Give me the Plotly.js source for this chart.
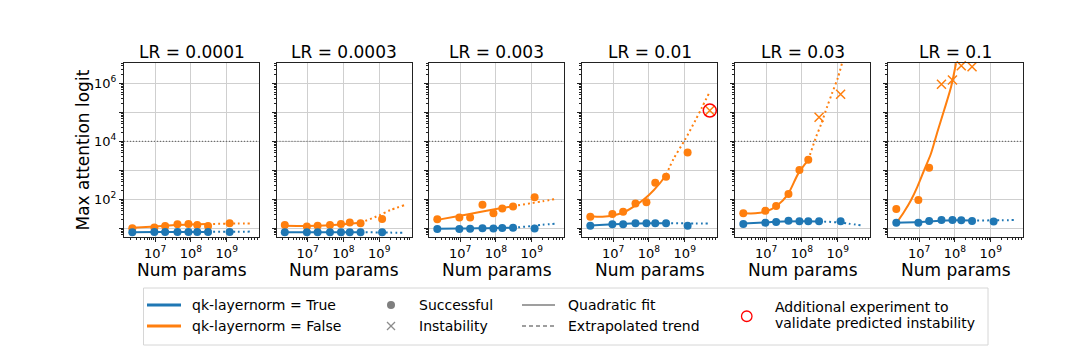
<!DOCTYPE html>
<html><head><meta charset="utf-8">
<script src="https://cdn.plot.ly/plotly-3.0.1.min.js"></script>
<style>html,body{margin:0;padding:0;background:#fff}#chart{width:1080px;height:354px}</style>
</head><body><div id="chart"></div>
<script>
// ---------------- DATA ----------------
const lrTitles = ['LR = 0.0001', 'LR = 0.0003', 'LR = 0.003', 'LR = 0.01', 'LR = 0.03', 'LR = 0.1'];
const numParams = [2.3e6, 9.5e6, 1.9e7, 4.2e7, 8.5e7, 1.5e8, 3.0e8, 1.2e9];
const fitX = [2.3e6, 1e7, 3e7, 1e8, 3e8];       // quadratic fit sample points (read)
const extX = [3e8, 1e9, 2e9, 5e9];              // extrapolated trend sample points (read)
const threshold = 1e4;

// LR = 0.0001
const blue1 = [7.3, 7.4, 7.4, 7.4, 7.5, 7.5, 7.5, 7.5];
const orange1 = [10, 10.7, 12, 13.8, 14, 13, 12, 14.8];
const status1 = ['ok','ok','ok','ok','ok','ok','ok','ok'];
const blueFit1 = [7.3, 7.4, 7.4, 7.5, 7.5];
const blueExt1 = [7.5, 7.6, 7.6, 7.7];
const orangeFit1 = [10.4, 11.6, 12.8, 13.6, 14.0];
const orangeExt1 = [14.0, 14.4, 14.6, 14.8];

// LR = 0.0003
const blue2 = [7.3, 7.3, 7.3, 7.3, 7.3, 7.3, 7.3, 7.3];
const orange2 = [12.9, 11.5, 12.3, 12.9, 14, 16, 15, 21];
const status2 = ['ok','ok','ok','ok','ok','ok','ok','ok'];
const blueFit2 = [7.3, 7.3, 7.3, 7.3, 7.3];
const blueExt2 = [7.3, 7.2, 7.1, 7.0];
const orangeFit2 = [12.3, 12.1, 12.6, 13.8, 15.5];
const orangeExt2 = [15.5, 28, 42, 63];

// LR = 0.003
const blue3 = [9.5, 9.5, 9.6, 10, 9.8, 10.3, 10.4, 9.8];
const orange3 = [20.4, 23.4, 23.4, 65, 33, 48, 56, 117];
const status3 = ['ok','ok','ok','ok','ok','ok','ok','ok'];
const blueFit3 = [9.6, 9.8, 10, 10.2, 10.4];
const blueExt3 = [10.4, 12, 13.3, 14.5];
const orangeFit3 = [19.5, 27, 35, 46, 58];
const orangeExt3 = [58, 74, 85, 105];

// LR = 0.01
const blue4 = [12.3, 13.8, 13.8, 14.8, 14.8, 14.8, 14.8, 12.3];
const orange4 = [25, 31, 37, 72, 79, 375, 600, 4070];
const status4 = ['ok','ok','ok','ok','ok','ok','ok','ok'];
const blueFit4 = [12.5, 13.8, 14.5, 14.8, 14.8];
const blueExt4 = [14.8, 14.8, 14.6, 14.5];
const orangeFit4X = [2.3e6, 5e6, 1e7, 2e7, 5e7, 1e8, 2e8, 3e8];
const orangeFit4 = [26, 25, 27.5, 36, 71, 141, 355, 690];
const orangeExt4X = [3e8, 5e8, 1e9, 2e9, 3e9, 5e9];
const orangeExt4 = [690, 2630, 11000, 54000, 145000, 513000];
const extraParams = [5e9];        // additional validation experiment
const extraLogit = [1.15e5];

// LR = 0.03
const blue5 = [14.2, 15.5, 16.5, 18.3, 17.5, 17.4, 17.4, 17.4];
const orange5 = [33, 40, 59, 152, 1020, 2300, 68000, 420000];
const status5 = ['ok','ok','ok','ok','ok','ok','x','x'];
const blueFit5 = [14.5, 16, 17, 17.5, 17.3];
const blueExt5 = [17.3, 16, 14.5, 12.3];
const orangeFit5X = [2.3e6, 5e6, 1e7, 2e7, 4e7, 8e7, 1.5e8];
const orangeFit5 = [33, 33, 38, 60, 145, 800, 2300];
const orangeExt5X = [1.5e8, 2.5e8, 3.5e8, 5e8, 7e8, 1e9, 1.3e9];
const orangeExt5 = [2300, 14500, 41700, 151000, 468000, 1.51e6, 4.7e6];

// LR = 0.1
const blue6 = [15.5, 15.5, 17.8, 19.5, 19.5, 19, 17.8, 17.3];
const orange6 = [46, 95, 1230, 9.3e5, 1.3e6, 4.0e6, 3.7e6, null];
const status6 = ['ok','ok','ok','x','x','x','x','x'];
const blueFit6 = [15.5, 16.5, 18, 18.8, 18.6];
const blueExt6 = [18.6, 18.8, 19, 19.2];
const orangeFit6X = [2.3e6, 3.8e6, 5.9e6, 8.9e6, 1.38e7, 2.14e7, 3.24e7, 5.0e7, 7.8e7, 1.07e8];
const orangeFit6 = [14.8, 37, 93, 270, 1020, 3800, 21400, 120000, 760000, 4.9e6];

// ---------------- BUILD ----------------
const BLUE = '#1f77b4', ORANGE = '#ff7f0e';
const panels = [
  {blue: blue1, orange: orange1, status: status1, bFit: blueFit1, bExt: blueExt1, oFitX: fitX, oFit: orangeFit1, oExtX: extX, oExt: orangeExt1},
  {blue: blue2, orange: orange2, status: status2, bFit: blueFit2, bExt: blueExt2, oFitX: fitX, oFit: orangeFit2, oExtX: extX, oExt: orangeExt2},
  {blue: blue3, orange: orange3, status: status3, bFit: blueFit3, bExt: blueExt3, oFitX: fitX, oFit: orangeFit3, oExtX: extX, oExt: orangeExt3},
  {blue: blue4, orange: orange4, status: status4, bFit: blueFit4, bExt: blueExt4, oFitX: orangeFit4X, oFit: orangeFit4, oExtX: orangeExt4X, oExt: orangeExt4},
  {blue: blue5, orange: orange5, status: status5, bFit: blueFit5, bExt: blueExt5, oFitX: orangeFit5X, oFit: orangeFit5, oExtX: orangeExt5X, oExt: orangeExt5},
  {blue: blue6, orange: orange6, status: status6, bFit: blueFit6, bExt: blueExt6, oFitX: orangeFit6X, oFit: orangeFit6, oExtX: null, oExt: null}
];

const W = 1080, H = 354;
const px = v => v / W, py = v => 1 - v / H;
const panelLeft = [124, 276.5, 429, 582, 735, 888];
const panelWidth = 135;
const plotTop = 63, plotBottom = 237;
const xRangeLog = [6.13, 9.9];
const yRangeLog = [0.7, 6.7];

const traces = [];
const layout = {
  width: W, height: H, autosize: false,
  margin: {l: 0, r: 0, t: 0, b: 0, pad: 0},
  paper_bgcolor: '#fff', plot_bgcolor: '#fff',
  font: {family: 'DejaVu Sans, sans-serif', color: '#000', size: 14},
  showlegend: false,
  shapes: [], annotations: []
};

const minorX = [], minorY = [];
for (let d = 6; d <= 9; d++) for (let m = 2; m <= 9; m++) minorX.push(m * Math.pow(10, d));
for (let d = 0; d <= 6; d++) for (let m = 2; m <= 9; m++) minorY.push(m * Math.pow(10, d));

panels.forEach((p, i) => {
  const n = i === 0 ? '' : String(i + 1);
  const xa = 'x' + n, ya = 'y' + n;
  const line = (x, y, color, dash) => ({x, y, xaxis: xa, yaxis: ya, mode: 'lines', type: 'scatter',
      line: {color, width: 2, dash, shape: 'spline', smoothing: 0.8}, hoverinfo: 'skip'});
  // threshold reference line across the full axis range
  traces.push({x: [Math.pow(10, xRangeLog[0]), Math.pow(10, xRangeLog[1])], y: [threshold, threshold],
    xaxis: xa, yaxis: ya, mode: 'lines', type: 'scatter', line: {color: '#555', width: 1, dash: '1px,2px'}});
  // orange
  traces.push(line(p.oFitX, p.oFit, ORANGE, 'solid'));
  if (p.oExtX) traces.push(line(p.oExtX, p.oExt, ORANGE, '2px,3px'));
  const okX = [], okY = [], xX = [], xY = [];
  p.orange.forEach((v, k) => { if (v == null) return; if (p.status[k] === 'ok') { okX.push(numParams[k]); okY.push(v); } else { xX.push(numParams[k]); xY.push(v); } });
  traces.push({x: okX, y: okY, xaxis: xa, yaxis: ya, mode: 'markers', type: 'scatter', cliponaxis: false,
    marker: {color: ORANGE, size: 8, symbol: 'circle'}});
  traces.push({x: xX, y: xY, xaxis: xa, yaxis: ya, mode: 'markers', type: 'scatter', cliponaxis: false,
    marker: {color: ORANGE, size: 9, symbol: 'x-thin-open', line: {color: ORANGE, width: 1.5}}});
  // blue
  traces.push(line(fitX, p.bFit, BLUE, 'solid'));
  traces.push(line(extX, p.bExt, BLUE, '2px,3px'));
  traces.push({x: numParams, y: p.blue, xaxis: xa, yaxis: ya, mode: 'markers', type: 'scatter', cliponaxis: false,
    marker: {color: BLUE, size: 8, symbol: 'circle'}});
  if (i === 3) {
    traces.push({x: extraParams, y: extraLogit, xaxis: xa, yaxis: ya, mode: 'markers', type: 'scatter', cliponaxis: false,
      marker: {color: ORANGE, size: 9, symbol: 'x-thin-open', line: {color: ORANGE, width: 1.5}}});
    traces.push({x: extraParams, y: extraLogit, xaxis: xa, yaxis: ya, mode: 'markers', type: 'scatter', cliponaxis: false,
      marker: {color: '#ff0000', size: 13, symbol: 'circle-open', line: {color: '#ff0000', width: 1.5}}});
  }
  const common = {
    type: 'log', showline: true, mirror: true, linecolor: '#222', linewidth: 1,
    showgrid: true, gridcolor: '#cfcfcf', gridwidth: 1, zeroline: false,
    ticks: 'outside', ticklen: 4, tickwidth: 1, tickcolor: '#222',
    tickfont: {size: 13, family: 'DejaVu Sans, sans-serif', color: '#000'},
    tickmode: 'array', fixedrange: true
  };
  layout['xaxis' + n] = Object.assign({}, common, {
    domain: [px(panelLeft[i]), px(panelLeft[i] + panelWidth)], anchor: ya,
    range: xRangeLog,
    tickvals: [1e7, 1e8, 1e9], ticktext: ['10<sup>7</sup>', '10<sup>8</sup>', '10<sup>9</sup>'],
    minor: {tickmode: 'array', tickvals: minorX, ticks: 'outside', ticklen: 2, tickcolor: '#222', showgrid: false}
  });
  layout['yaxis' + n] = Object.assign({}, common, {
    domain: [py(plotBottom), py(plotTop)], anchor: xa,
    range: yRangeLog,
    tickvals: [10, 100, 1e3, 1e4, 1e5, 1e6],
    ticktext: ['', '10<sup>2</sup>', '', '10<sup>4</sup>', '', '10<sup>6</sup>'],
    showticklabels: i === 0,
    minor: {tickmode: 'array', tickvals: minorY, ticks: 'outside', ticklen: 2, tickcolor: '#222', showgrid: false}
  });
  layout.annotations.push({text: lrTitles[i], xref: 'paper', yref: 'paper',
    x: px(panelLeft[i] + panelWidth / 2), y: py(51.5), xanchor: 'center', yanchor: 'middle',
    showarrow: false, font: {size: 17}});
  layout.annotations.push({text: 'Num params', xref: 'paper', yref: 'paper',
    x: px(panelLeft[i] + panelWidth / 2), y: py(269.5), xanchor: 'center', yanchor: 'middle',
    showarrow: false, font: {size: 17}});
});
layout.annotations.push({text: 'Max attention logit', xref: 'paper', yref: 'paper', x: px(82.5), y: py(150),
  xanchor: 'center', yanchor: 'middle', textangle: -90, showarrow: false, font: {size: 17}});

// ---------------- LEGEND (manual) ----------------
const legendItems = {
  groups: ['qk-layernorm = True', 'qk-layernorm = False'],
  markers: ['Successful', 'Instability'],
  styles: ['Quadratic fit', 'Extrapolated trend'],
  extra: ['Additional experiment to', 'validate predicted instability']
};
(function () {
  const L = 143.5, R = 988, T = 288, B = 345;
  layout.shapes.push({type: 'rect', xref: 'paper', yref: 'paper', x0: px(L), x1: px(R), y0: py(B), y1: py(T),
    fillcolor: 'rgba(255,255,255,0)', line: {color: '#d6d6d6', width: 1}});
  const row = [305, 326];
  const lineShape = (x0, y0, x1, y1, color, width, dash) => layout.shapes.push({type: 'line', xref: 'paper', yref: 'paper',
    x0: px(x0), x1: px(x1), y0: py(y0), y1: py(y1), line: {color, width, dash}});
  const text = (t, x, y) => layout.annotations.push({text: t, xref: 'paper', yref: 'paper', x: px(x), y: py(y),
    xanchor: 'left', yanchor: 'middle', showarrow: false, font: {size: 14, color: '#000'}});
  lineShape(147, row[0], 181, row[0], BLUE, 3, 'solid');
  lineShape(147, row[1], 181, row[1], ORANGE, 3, 'solid');
  text(legendItems.groups[0], 190, row[0]);
  text(legendItems.groups[1], 190, row[1]);
  layout.shapes.push({type: 'circle', xref: 'paper', yref: 'paper', x0: px(387), x1: px(395), y0: py(row[0] + 4), y1: py(row[0] - 4),
    fillcolor: '#7f7f7f', line: {color: '#7f7f7f', width: 0}});
  lineShape(387, row[1] - 4, 395, row[1] + 4, '#8c8c8c', 1.2, 'solid');
  lineShape(387, row[1] + 4, 395, row[1] - 4, '#8c8c8c', 1.2, 'solid');
  text(legendItems.markers[0], 417, row[0]);
  text(legendItems.markers[1], 417, row[1]);
  lineShape(522, row[0], 555, row[0], '#7f7f7f', 1.5, 'solid');
  lineShape(522, row[1], 555, row[1], '#7f7f7f', 1.5, '4px,3px');
  text(legendItems.styles[0], 565.5, row[0]);
  text(legendItems.styles[1], 565.5, row[1]);
  layout.shapes.push({type: 'circle', xref: 'paper', yref: 'paper', x0: px(741.5), x1: px(752), y0: py(321.5), y1: py(311),
    fillcolor: 'rgba(0,0,0,0)', line: {color: '#ff0000', width: 1.3}});
  text(legendItems.extra[0], 773, 306.7);
  text(legendItems.extra[1], 773, 323.3);
})();

Plotly.newPlot('chart', traces, layout, {staticPlot: true, displayModeBar: false});
</script>
</body></html>
